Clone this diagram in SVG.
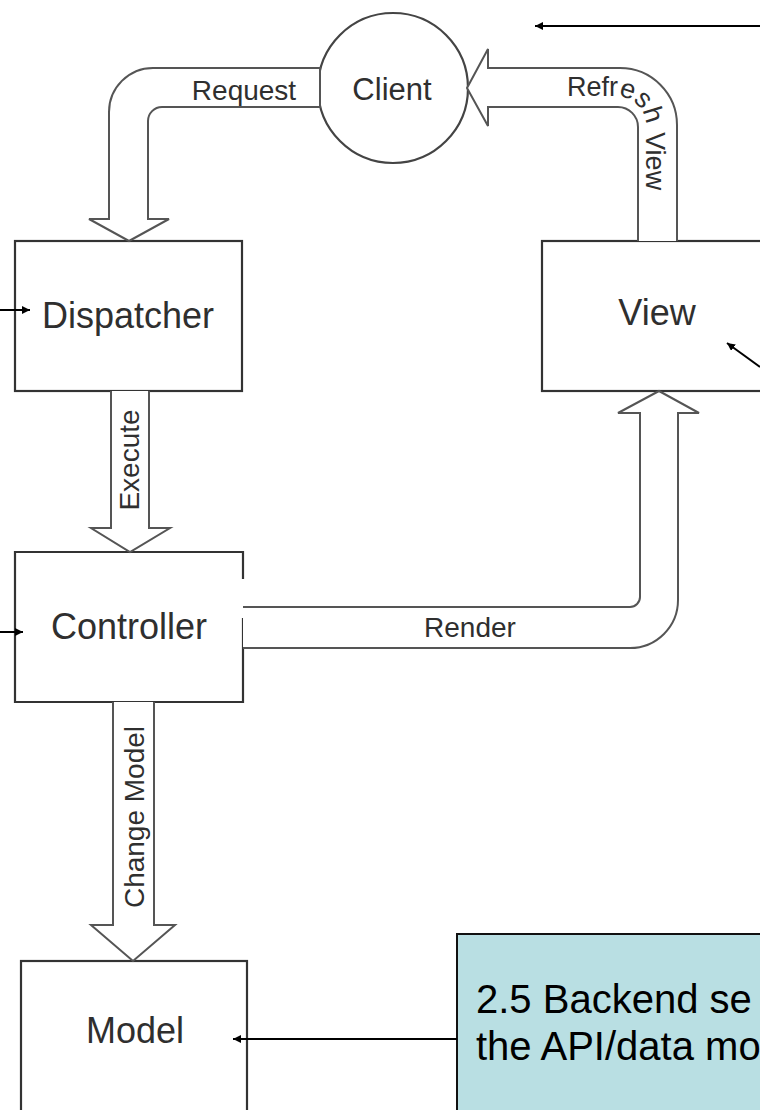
<svg xmlns="http://www.w3.org/2000/svg" width="760" height="1110" viewBox="0 0 760 1110">
<style>
.box{fill:#fff;stroke:#333;stroke-width:2.2}
.flow{fill:#fff;stroke:#555;stroke-width:2}
.open{fill:none;stroke:#333;stroke-width:2.2}
.node{font-family:"Liberation Sans",Arial,sans-serif;font-size:36px;fill:#2f2f2f;text-anchor:middle}
.lbl{font-family:"Liberation Sans",Arial,sans-serif;font-size:28px;fill:#2f2f2f;text-anchor:middle}
.note{font-family:"Liberation Sans",Arial,sans-serif;font-size:40px;fill:#000}
.ptr{stroke:#000;stroke-width:2;fill:none;marker-end:url(#ah)}
</style>
<defs>
<marker id="ah" viewBox="0 0 10 10" refX="10" refY="5" markerWidth="4" markerHeight="4" orient="auto" markerUnits="strokeWidth">
<path d="M0,0 L10,5 L0,10 z" fill="#000"/>
</marker>
<path id="rvpath" d="M 567,96 H 616 A 30 30 0 0 1 646,126 V 240"/>
</defs>
<rect width="760" height="1110" fill="#fff"/>
<g id="client">
<circle class="box" cx="393" cy="88" r="75" style="stroke:#444"/>
<text class="node" x="392" y="100" style="font-size:31px">Client</text>
</g>
<g id="dispatcher">
<rect class="box" x="15" y="241" width="227" height="150"/>
<text class="node" x="128" y="328">Dispatcher</text>
</g>
<g id="view">
<rect class="box" x="542" y="241" width="240" height="150"/>
<text class="node" x="657" y="325">View</text>
</g>
<g id="controller">
<path class="open" d="M 243,579 V 552 H 15 V 702 H 243 V 618"/>
<text class="node" x="129" y="639">Controller</text>
</g>
<g id="model">
<rect class="box" x="21" y="961" width="226" height="160"/>
<text class="node" x="135" y="1043">Model</text>
</g>
<g id="note">
<rect x="457" y="934" width="320" height="200" fill="#b9dfe3" stroke="#111" stroke-width="2"/>
<text class="note" x="476" y="1013">2.5 Backend se</text>
<text class="note" x="476" y="1060">the API/data mo</text>
</g>
<g id="connectors">
<g id="request">
<path class="flow" d="M 320,68 H 153 A 44 44 0 0 0 109,112 V 219 H 89 L 129,241 L 169,219 H 148 V 121 A 14 14 0 0 1 162,107 H 320 Z"/>
<text class="lbl" x="244" y="100">Request</text>
</g>
<g id="refresh-view">
<path class="flow" d="M 677,241 V 125 A 57 57 0 0 0 620,68 H 488 V 49 L 467,88 L 488,126 V 107 H 618 A 20 20 0 0 1 638,127 V 241"/>
<text class="lbl" style="text-anchor:start;font-size:27px"><textPath href="#rvpath">Refresh View</textPath></text>
</g>
<g id="execute">
<path class="flow" d="M 111,391 V 528 H 91 L 130,552 L 170,528 H 149 V 391"/>
<text class="lbl" transform="translate(139,460) rotate(-90)">Execute</text>
</g>
<g id="render">
<path class="flow" d="M 243,607 H 630 A 10 10 0 0 0 640,597 V 413 H 618 L 659,391 L 699,413 H 678 V 600 A 48 48 0 0 1 630,648 H 243"/>
<text class="lbl" x="470" y="637">Render</text>
</g>
<g id="change-model">
<path class="flow" d="M 113,702 V 925 H 91 L 133,961 L 175,925 H 154 V 702"/>
<text class="lbl" transform="translate(144,817) rotate(-90)">Change Model</text>
</g>
<g id="pointers">
<line class="ptr" x1="760" y1="26" x2="535" y2="26"/>
<line class="ptr" x1="0" y1="310" x2="30" y2="310"/>
<line class="ptr" x1="0" y1="632" x2="23" y2="632"/>
<line class="ptr" x1="760" y1="367" x2="727" y2="343"/>
<line class="ptr" x1="457" y1="1039" x2="233" y2="1039"/>
</g>
</g>
</svg>
